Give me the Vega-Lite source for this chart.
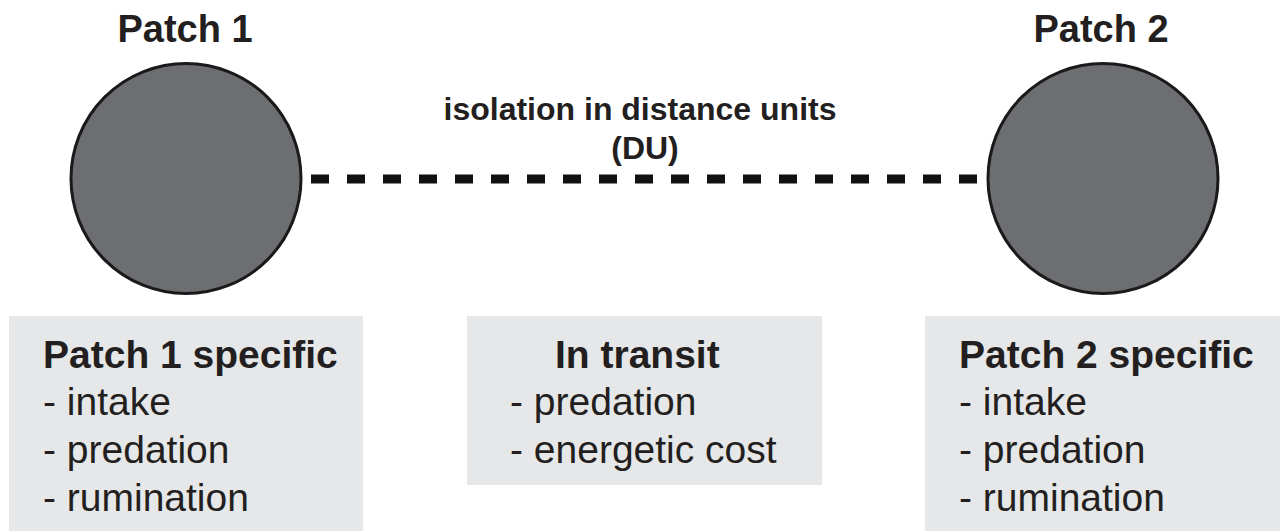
{
  "$schema": "https://vega.github.io/schema/vega-lite/v6.json",
  "width": 1283,
  "height": 531,
  "autosize": {"type": "fit", "contains": "padding"},
  "padding": 0,
  "background": "white",
  "config": {"view": {"stroke": null}},
  "datasets": {
    "boxes": [
      {"name": "Patch 1 specific", "x": 9, "x2": 363, "y": 316, "y2": 531},
      {"name": "In transit", "x": 467, "x2": 822, "y": 316, "y2": 485},
      {"name": "Patch 2 specific", "x": 925, "x2": 1280, "y": 316, "y2": 531}
    ],
    "patches": [
      {"patch": "Patch 1", "x": 186, "y": 178.5},
      {"patch": "Patch 2", "x": 1103, "y": 178.5}
    ],
    "link": [
      {"x": 311, "x2": 977, "y": 179}
    ],
    "titles": [
      {"label": "Patch 1", "x": 185, "y": 42},
      {"label": "Patch 2", "x": 1101, "y": 42}
    ],
    "middle": [
      {"label": "isolation in distance units", "x": 640, "y": 120},
      {"label": "(DU)", "x": 645, "y": 159}
    ],
    "headers": [
      {"label": "Patch 1 specific", "x": 43, "y": 368},
      {"label": "In transit", "x": 555, "y": 368},
      {"label": "Patch 2 specific", "x": 959, "y": 368}
    ],
    "items": [
      {"label": "- intake", "x": 43, "y": 415},
      {"label": "- predation", "x": 43, "y": 463},
      {"label": "- rumination", "x": 43, "y": 511},
      {"label": "- predation", "x": 510, "y": 415},
      {"label": "- energetic cost", "x": 510, "y": 463},
      {"label": "- intake", "x": 959, "y": 415},
      {"label": "- predation", "x": 959, "y": 463},
      {"label": "- rumination", "x": 959, "y": 511}
    ]
  },
  "layer": [
    {
      "data": {"name": "boxes"},
      "mark": {"type": "rect", "fill": "#e6e7e8", "stroke": null},
      "encoding": {
        "x": {"field": "x", "type": "quantitative", "scale": {"domain": [0, 1283], "nice": false, "zero": false}, "axis": null},
        "x2": {"field": "x2"},
        "y": {"field": "y", "type": "quantitative", "scale": {"domain": [0, 531], "nice": false, "zero": false, "reverse": true}, "axis": null},
        "y2": {"field": "y2"}
      }
    },
    {
      "data": {"name": "link"},
      "mark": {"type": "rule", "color": "#111111", "strokeWidth": 9, "strokeDash": [18, 18], "strokeCap": "butt"},
      "encoding": {
        "x": {"field": "x", "type": "quantitative", "axis": null},
        "x2": {"field": "x2"},
        "y": {"field": "y", "type": "quantitative", "axis": null}
      }
    },
    {
      "data": {"name": "patches"},
      "mark": {"type": "point", "shape": "circle", "filled": true, "fill": "#6d6e71", "stroke": "#1a1a1a", "strokeWidth": 3, "size": 52900, "opacity": 1},
      "encoding": {
        "x": {"field": "x", "type": "quantitative", "axis": null},
        "y": {"field": "y", "type": "quantitative", "axis": null}
      }
    },
    {
      "data": {"name": "titles"},
      "mark": {"type": "text", "font": "Liberation Sans", "fontWeight": "bold", "fontSize": 38, "align": "center", "baseline": "alphabetic", "color": "#231f20"},
      "encoding": {
        "x": {"field": "x", "type": "quantitative", "axis": null},
        "y": {"field": "y", "type": "quantitative", "axis": null},
        "text": {"field": "label"}
      }
    },
    {
      "data": {"name": "middle"},
      "mark": {"type": "text", "font": "Liberation Sans", "fontWeight": "bold", "fontSize": 32, "align": "center", "baseline": "alphabetic", "color": "#231f20"},
      "encoding": {
        "x": {"field": "x", "type": "quantitative", "axis": null},
        "y": {"field": "y", "type": "quantitative", "axis": null},
        "text": {"field": "label"}
      }
    },
    {
      "data": {"name": "headers"},
      "mark": {"type": "text", "font": "Liberation Sans", "fontWeight": "bold", "fontSize": 39, "align": "left", "baseline": "alphabetic", "color": "#231f20"},
      "encoding": {
        "x": {"field": "x", "type": "quantitative", "axis": null},
        "y": {"field": "y", "type": "quantitative", "axis": null},
        "text": {"field": "label"}
      }
    },
    {
      "data": {"name": "items"},
      "mark": {"type": "text", "font": "Liberation Sans", "fontWeight": "normal", "fontSize": 39, "align": "left", "baseline": "alphabetic", "color": "#231f20"},
      "encoding": {
        "x": {"field": "x", "type": "quantitative", "axis": null},
        "y": {"field": "y", "type": "quantitative", "axis": null},
        "text": {"field": "label"}
      }
    }
  ]
}
